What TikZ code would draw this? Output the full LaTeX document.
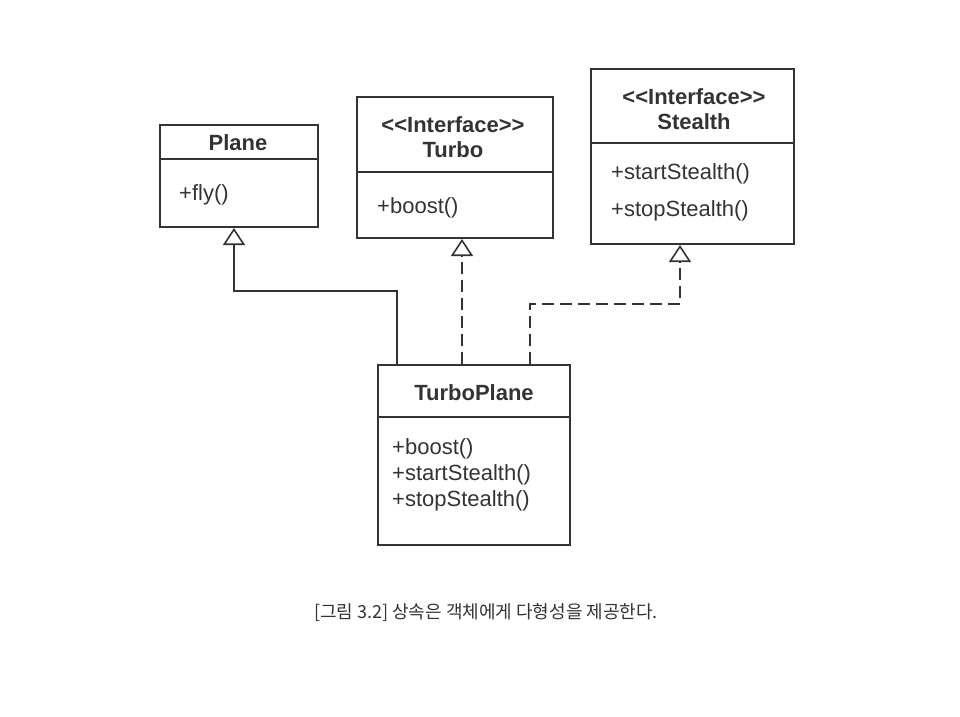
\documentclass[tikz,border=0pt]{standalone}
\usepackage{fontspec}
\setmainfont{Liberation Sans}
\newfontfamily\krfont{Noto Sans CJK KR}
\usetikzlibrary{arrows.meta}
\definecolor{ink}{HTML}{333333}
\newcommand\stereotype[1]{<\kern0pt<#1>\kern0pt>}

\tikzset{
  classbox/.style={draw=ink, line width=2pt, inner sep=0pt},
  title/.style={font=\fontsize{22}{25}\selectfont\bfseries, text=ink, align=center},
  member/.style={font=\fontsize{22}{25}\selectfont, text=ink, anchor=west, inner sep=0pt},
  divider/.style={draw=ink, line width=2pt},
  inherit/.style={draw=ink, line width=1.6pt, -{Triangle[open, length=17pt, width=22pt]}},
  realize/.style={inherit, dash pattern=on 12pt off 6pt}
}

\begin{document}
\begin{tikzpicture}[x=1pt,y=-1pt]
\useasboundingbox (0,0) rectangle (960,716);

% classes
\node[classbox, minimum width=158pt, minimum height=102pt] (plane) at (239,176) {};
\node[classbox, minimum width=196pt, minimum height=141pt] (turbo) at (455,167.5) {};
\node[classbox, minimum width=203pt, minimum height=175pt] (stealth) at (692.5,156.5) {};
\node[classbox, minimum width=192pt, minimum height=180pt] (turboplane) at (474,455) {};

\draw[divider] (plane.west |- 0,159) -- (plane.east |- 0,159);
\draw[divider] (turbo.west |- 0,172) -- (turbo.east |- 0,172);
\draw[divider] (stealth.west |- 0,143) -- (stealth.east |- 0,143);
\draw[divider] (turboplane.west |- 0,417) -- (turboplane.east |- 0,417);

\node[title] (planename) at (238,143) {Plane};
\node[title] (turboname) at (453,137.5) {\stereotype{Interface}\\Turbo};
\node[title] (stealthname) at (694,109.5) {\stereotype{Interface}\\Stealth};
\node[title] (turboplanename) at (474,393) {TurboPlane};

\node[member] (fly) at (179,195) {+fly()};
\node[member] (boost) at (377,208) {+boost()};
\node[member] (start) at (611,174) {+startStealth()};
\node[member] (stop) at (611,211) {+stopStealth()};
\node[member] (tpboost) at (392,449) {+boost()};
\node[member] (tpstart) at (392,475) {+startStealth()};
\node[member] (tpstop) at (392,501) {+stopStealth()};

% relations
\draw[inherit] (turboplane.north -| 397,0) -- (397,291) -| (plane.south -| 234,0);
\draw[realize] (turboplane.north -| 462,0) -- (turbo.south -| 462,0);
\draw[realize] (turboplane.north -| 530,0) -- (530,304) -| (stealth.south -| 680,0);

\node[font=\krfont\fontsize{18}{20}\selectfont, text=ink] (caption) at (486,613)
  {[그림 3.2] 상속은 객체에게 다형성을 제공한다.};
\end{tikzpicture}
\end{document}
